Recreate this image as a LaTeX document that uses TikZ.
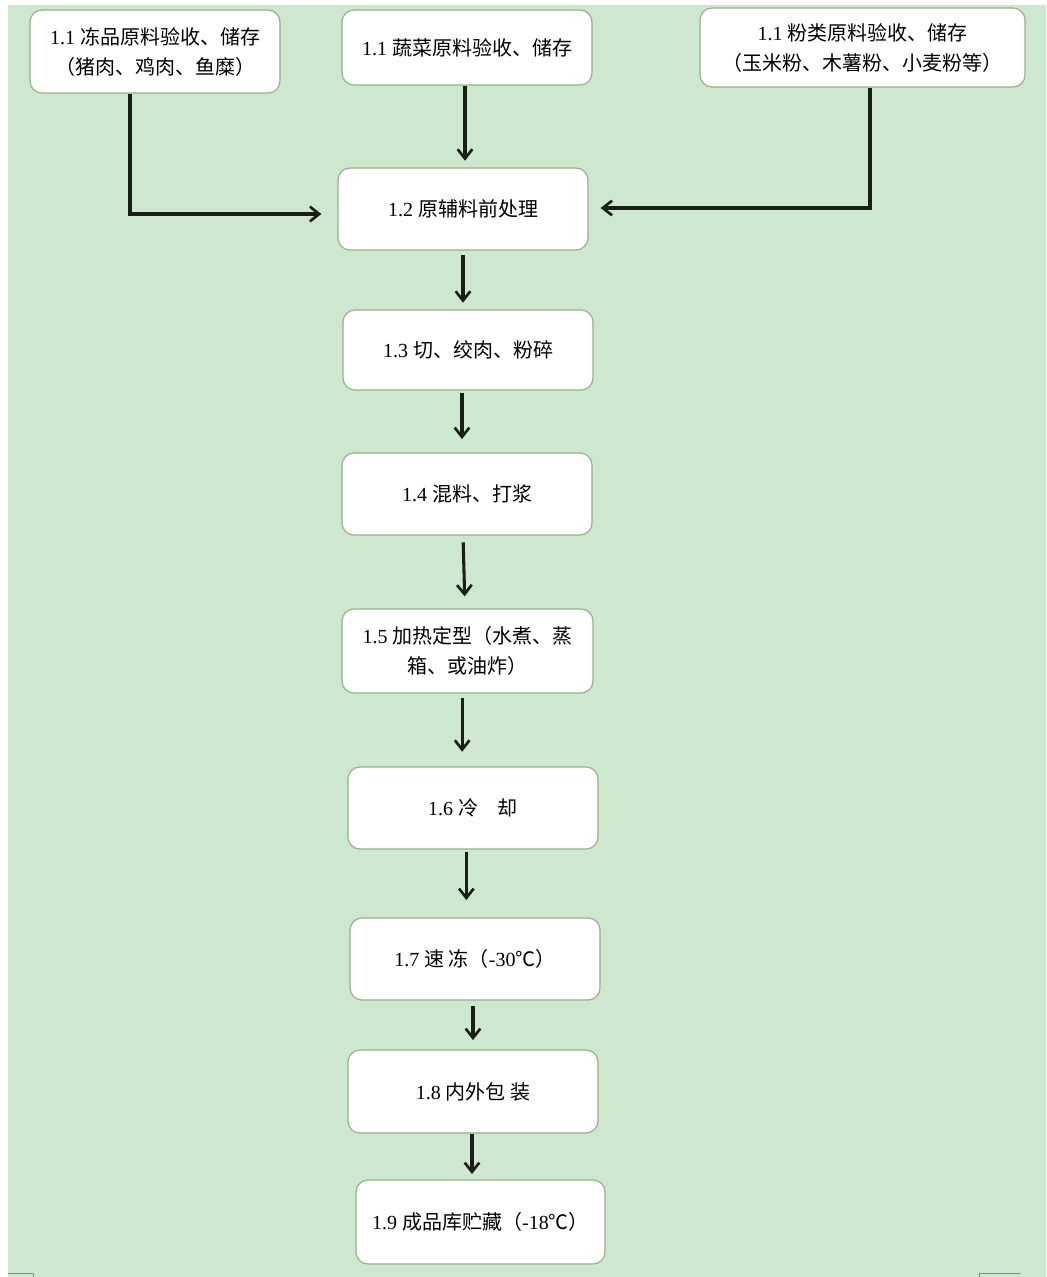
\documentclass[tikz,border=0pt]{standalone}
\usepackage{fontspec}
\setmainfont{Liberation Serif}
\newfontfamily\cjk{Noto Sans CJK SC}
\usetikzlibrary{arrows.meta}
\newcommand\zh[1]{{\cjk #1}}
\definecolor{bgg}{RGB}{205,232,207}
\definecolor{bordg}{RGB}{150,178,135}
\definecolor{linec}{RGB}{25,30,25}
\tikzset{
  box/.style={draw=bordg, line width=0.9pt, fill=white, rounded corners=9pt,
    align=center, font=\fontsize{15pt}{22.5pt}\selectfont, text=black,
    minimum width=187.5pt, minimum height=61.5pt, inner sep=0pt},
  arr/.style={draw=linec, line width=2.3pt, -{Straight Barb[length=7pt,width=11pt,line width=2pt]}},
  pagemark/.style={draw=black!45, line width=0.6pt}
}
\begin{document}
\begin{tikzpicture}[x=0.75pt,y=-0.75pt]
\useasboundingbox (0,0) rectangle (1046,1277);
\fill[white] (0,0) rectangle (1046,1277);
\fill[bgg] (8,5) rectangle (1046,1277);
% corner marks
\draw[pagemark] (8,1273) -- (33,1273) -- (33,1277);
\draw[pagemark] (979,1277) -- (979,1273) -- (1021,1273);
% nodes
\node[box, minimum height=62.25pt] (a) at (155,51.5) {1.1 \zh{冻品原料验收、储存}\\\zh{（猪肉、鸡肉、鱼糜）}};
\node[box, minimum height=56.25pt] (b) at (467,47.5) {1.1 \zh{蔬菜原料验收、储存}};
\node[box, minimum width=243.75pt, minimum height=59.25pt] (c) at (862.5,47.5) {1.1 \zh{粉类原料验收、储存}\\\zh{（玉米粉、木薯粉、小麦粉等）}};
\node[box] (n12) at (463,209) {1.2 \zh{原辅料前处理}};
\node[box, minimum height=60pt] (n13) at (468,350) {1.3 \zh{切、绞肉、粉碎}};
\node[box] (n14) at (467,494) {1.4 \zh{混料、打浆}};
\node[box, minimum width=188.25pt, minimum height=63pt] (n15) at (467.5,651) {1.5 \zh{加热定型（水煮、蒸}\\\zh{箱、或油炸）}};
\node[box] (n16) at (473,808) {1.6 \zh{冷\quad 却}};
\node[box] (n17) at (475,959) {1.7 \zh{速 冻（}-30\zh{℃）}};
\node[box, minimum height=62.25pt] (n18) at (473,1091.5) {1.8 \zh{内外包 装}};
\node[box, minimum width=186.75pt, minimum height=63pt] (n19) at (480.5,1222) {1.9 \zh{成品库贮藏（}-18\zh{℃）}};
% connectors
\draw[arr, shorten >=12pt] ([xshift=-18.75pt]a.south) |- ([yshift=-3.75pt]n12.west);
\draw[arr, shorten >=5pt] ([xshift=-1.5pt]b.south) -- ([xshift=-1.5pt]b.south |- n12.north);
\draw[arr, shorten >=9pt] ([xshift=5.6pt]c.south) |- ([yshift=0.75pt]n12.east);
\draw[arr, shorten <=3pt, shorten >=5pt] (n12.south) -- (n12.south |- n13.north);
\draw[arr, shorten <=2pt, shorten >=10pt] ([xshift=-4.5pt]n13.south) -- ([xshift=-4.5pt]n13.south |- n14.north);
\draw[arr, shorten <=5pt, shorten >=9pt] ([xshift=-3pt]n14.south) -- ([xshift=-1.5pt]n14.south |- n15.north);
\draw[arr, shorten <=3pt, shorten >=11pt] ([xshift=-4pt]n15.south) -- ([xshift=-4pt]n15.south |- n16.north);
\draw[arr, shorten <=2pt, shorten >=13pt] ([xshift=-5pt]n16.south) -- ([xshift=-5pt]n16.south |- n17.north);
\draw[arr, shorten <=4pt, shorten >=7pt] ([xshift=-1.5pt]n17.south) -- ([xshift=-1.5pt]n17.south |- n18.north);
\draw[arr, shorten <=0pt, shorten >=4pt] ([xshift=-0.75pt]n18.south) -- ([xshift=-0.75pt]n18.south |- n19.north);
\end{tikzpicture}
\end{document}
